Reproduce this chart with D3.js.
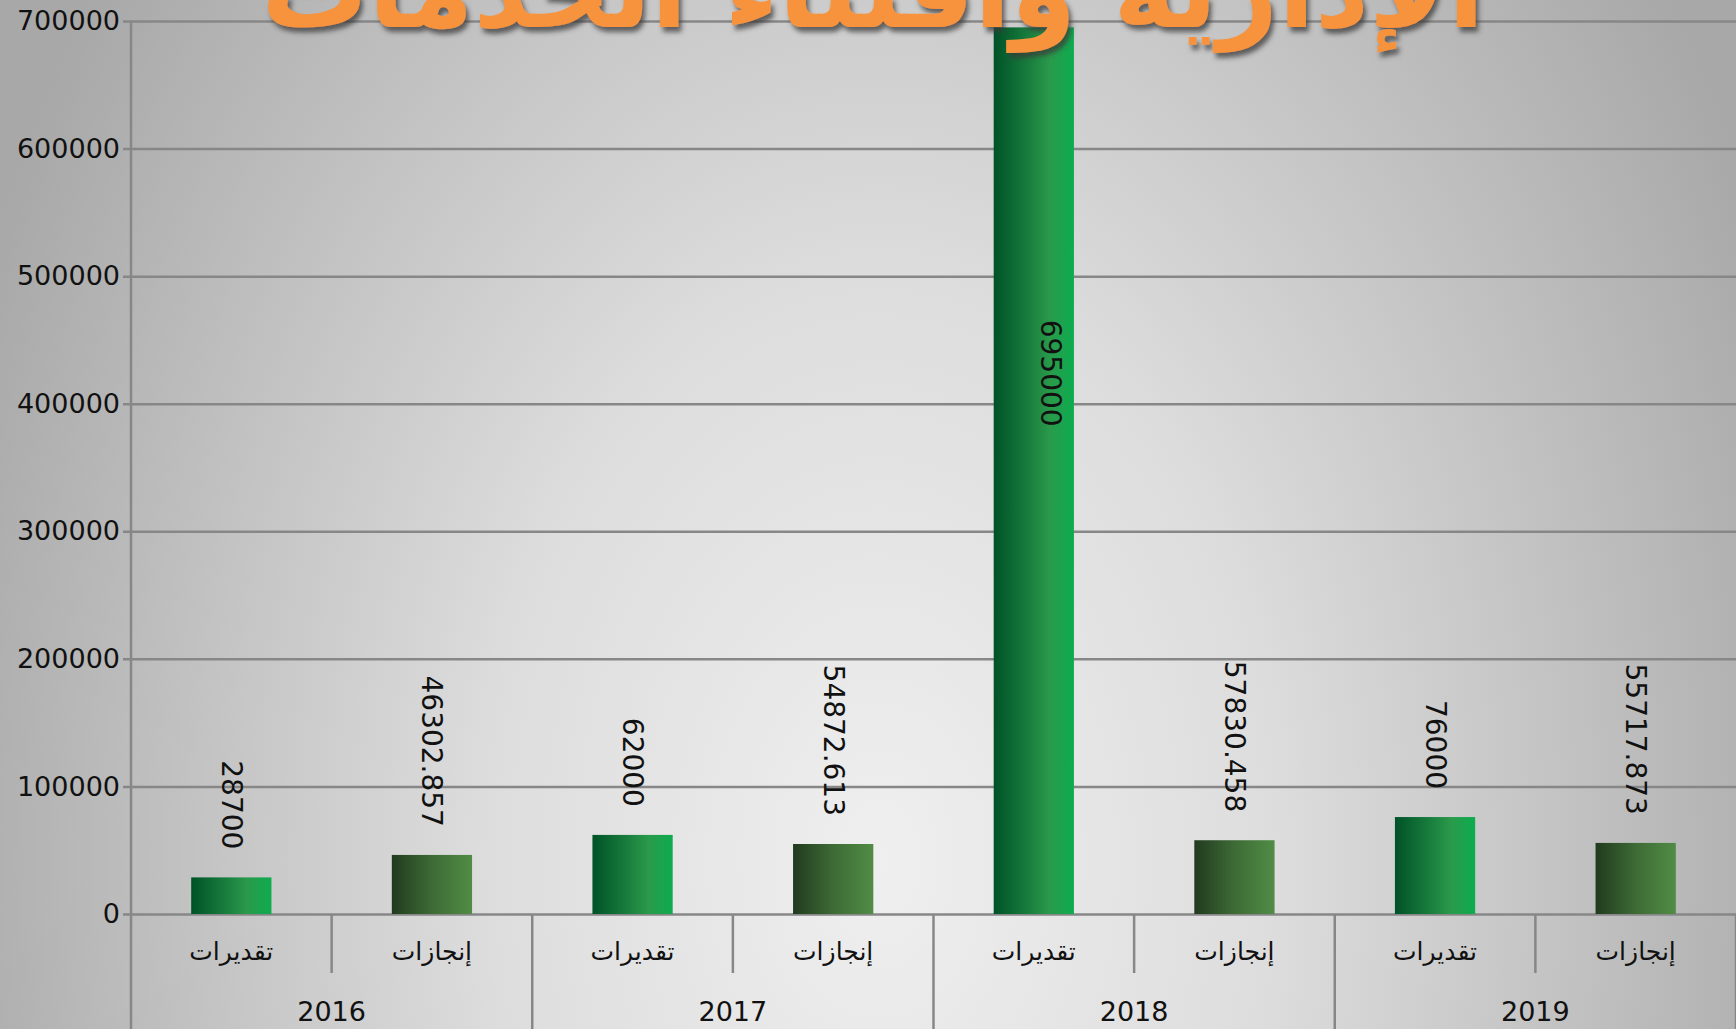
<!DOCTYPE html>
<html>
<head>
<meta charset="utf-8">
<script src="https://cdn.jsdelivr.net/npm/d3@7"></script>
<style>
  html, body { margin: 0; padding: 0; overflow: hidden; }
  svg { display: block; }
</style>
</head>
<body>
<svg id="chart" width="1736" height="1029"></svg>
<script>
// data
const years = ["2016", "2017", "2018", "2019"];
const types = ["تقديرات", "إنجازات"];
const estimates = [28700, 62000, 695000, 76000];
const achievements = [46302.857, 54872.613, 57830.458, 55717.873];
const valueLabels = {
  "تقديرات": ["28700", "62000", "695000", "76000"],
  "إنجازات": ["46302.857", "54872.613", "57830.458", "55717.873"]
};
const yTicks = [0, 100000, 200000, 300000, 400000, 500000, 600000, 700000];
const title = "الإدارية واقتناء الخدمات";

const width = 1736, height = 1029;
const margin = { top: 21, right: 0, bottom: 115, left: 131 };
const plotBottom = height - margin.bottom;

const rows = [];
years.forEach((yr, i) => {
  rows.push({ year: yr, type: types[0], value: estimates[i], label: valueLabels[types[0]][i] });
  rows.push({ year: yr, type: types[1], value: achievements[i], label: valueLabels[types[1]][i] });
});

const svg = d3.select("#chart");
const defs = svg.append("defs");

// background: elliptical light spot low in the middle
const bg = defs.append("radialGradient").attr("id", "bg")
  .attr("gradientUnits", "userSpaceOnUse")
  .attr("cx", 0).attr("cy", 0).attr("r", 1)
  .attr("gradientTransform", "translate(880,860) scale(980,1450)");
bg.append("stop").attr("offset", "0%").attr("stop-color", "#efefef");
bg.append("stop").attr("offset", "40%").attr("stop-color", "#dddddd");
bg.append("stop").attr("offset", "100%").attr("stop-color", "#a8a8a8");
svg.append("rect").attr("width", width).attr("height", height).attr("fill", "url(#bg)");

const gEst = defs.append("linearGradient").attr("id", "gEst");
gEst.append("stop").attr("offset", "0%").attr("stop-color", "#005227");
gEst.append("stop").attr("offset", "40%").attr("stop-color", "#177a3c");
gEst.append("stop").attr("offset", "70%").attr("stop-color", "#2a9a4b");
gEst.append("stop").attr("offset", "100%").attr("stop-color", "#0dac4f");
const gAch = defs.append("linearGradient").attr("id", "gAch");
gAch.append("stop").attr("offset", "0%").attr("stop-color", "#213a1f");
gAch.append("stop").attr("offset", "50%").attr("stop-color", "#3d6b35");
gAch.append("stop").attr("offset", "100%").attr("stop-color", "#518c46");

const shadow = defs.append("filter").attr("id", "shadow")
  .attr("x", "-5%").attr("y", "-20%").attr("width", "110%").attr("height", "160%");
shadow.append("feDropShadow").attr("dx", 3).attr("dy", 5).attr("stdDeviation", 2.5)
  .attr("flood-color", "#3a3a3a").attr("flood-opacity", 0.75);

const x = d3.scaleBand()
  .domain(rows.map(d => d.year + "|" + d.type))
  .range([margin.left, width - margin.right])
  .paddingInner(0.6)
  .paddingOuter(0.3);
const step = x.step();

const y = d3.scaleLinear().domain([0, 700000]).range([plotBottom, margin.top]);

const gridColor = "#878787";

// y axis with grid lines
const yAxis = d3.axisLeft(y).tickValues(yTicks).tickFormat(d3.format("d"))
  .tickSize(-(width - margin.left)).tickPadding(11);
const yg = svg.append("g").attr("transform", `translate(${margin.left},0)`).call(yAxis);
yg.select(".domain").remove();
yg.selectAll(".tick line").attr("stroke", gridColor).attr("stroke-width", 2.5).attr("x1", -8);
yg.selectAll(".tick text")
  .attr("fill", "#111")
  .style("font-family", "'DejaVu Sans', sans-serif")
  .style("font-size", "27px");

// vertical axis line
svg.append("line")
  .attr("x1", margin.left).attr("x2", margin.left)
  .attr("y1", margin.top).attr("y2", height)
  .attr("stroke", gridColor).attr("stroke-width", 2.5);

// category dividers
const bounds = d3.range(1, rows.length + 1).map(i => margin.left + step * i);
svg.append("g").selectAll("line").data(bounds).join("line")
  .attr("x1", d => d).attr("x2", d => d)
  .attr("y1", plotBottom)
  .attr("y2", (d, i) => (i % 2 === 1 ? height : plotBottom + 59))
  .attr("stroke", gridColor).attr("stroke-width", 2.5);

// bars
svg.append("g").selectAll("rect").data(rows).join("rect")
  .attr("x", d => x(d.year + "|" + d.type))
  .attr("y", d => y(d.value))
  .attr("width", x.bandwidth())
  .attr("height", d => y(0) - y(d.value))
  .attr("fill", d => d.type === types[0] ? "url(#gEst)" : "url(#gAch)");

// value labels (rotated)
svg.append("g").selectAll("text").data(rows).join("text")
  .attr("transform", d => {
    const cx = x(d.year + "|" + d.type) + x.bandwidth() / 2;
    const inside = d.value > 600000;
    const cy = inside ? y(d.value * 0.61) : y(d.value) - 28;
    return `translate(${inside ? cx + 17 : cx},${cy}) rotate(90)`;
  })
  .attr("text-anchor", d => d.value > 600000 ? "middle" : "end")
  .attr("dominant-baseline", "central")
  .attr("fill", "#111")
  .style("font-family", "'DejaVu Sans', sans-serif")
  .style("font-size", "28px")
  .text(d => d.label);

// sub category labels
svg.append("g").selectAll("text").data(rows).join("text")
  .attr("x", d => x(d.year + "|" + d.type) + x.bandwidth() / 2)
  .attr("y", plotBottom + 37)
  .attr("text-anchor", "middle")
  .attr("dominant-baseline", "central")
  .attr("fill", "#111")
  .style("font-family", "'DejaVu Sans', sans-serif")
  .style("font-size", "25px")
  .text(d => d.type);

// year labels
svg.append("g").selectAll("text").data(years).join("text")
  .attr("x", (d, i) => margin.left + step * (2 * i + 1))
  .attr("y", plotBottom + 97)
  .attr("text-anchor", "middle")
  .attr("dominant-baseline", "central")
  .attr("fill", "#111")
  .style("font-family", "'DejaVu Sans', sans-serif")
  .style("font-size", "27px")
  .text(d => d);

// title (cut at top as in the picture)
svg.append("text")
  .attr("x", 873)
  .attr("y", 27)
  .attr("text-anchor", "middle")
  .attr("direction", "rtl")
  .attr("fill", "#f7923c")
  .attr("filter", "url(#shadow)")
  .style("font-family", "'DejaVu Sans', sans-serif")
  .style("font-weight", "bold")
  .style("font-size", "106px")
  .text(title);
</script>
</body>
</html>
